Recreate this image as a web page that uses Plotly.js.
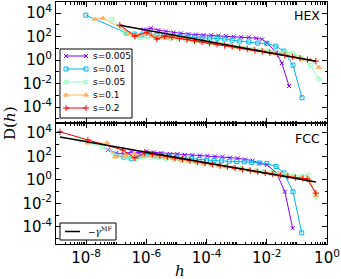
<!DOCTYPE html>
<html><head><meta charset="utf-8">
<script src="https://cdn.plot.ly/plotly-3.0.1.min.js"></script>
<style>html,body{margin:0;padding:0;background:#fff;} #chart{width:341px;height:279px;}</style>
</head><body><div id="chart"></div>
<script>
// Values are stored as log10 exponents (log-log axes)
const seriesNames = ['s=0.005', 's=0.01', 's=0.05', 's=0.1', 's=0.2'];
const panelLabels = ['HEX', 'FCC'];
const xTickVals = [1e-8, 1e-6, 1e-4, 1e-2, 1];
const xTickText = ['10<sup>-8</sup>', '10<sup>-6</sup>', '10<sup>-4</sup>', '10<sup>-2</sup>', '10<sup>0</sup>'];
const yTickVals = [1e-4, 1e-2, 1, 1e2, 1e4];
const yTickText = ['10<sup>-4</sup>', '10<sup>-2</sup>', '10<sup>0</sup>', '10<sup>2</sup>', '10<sup>4</sup>'];
const fitLabel = '\u2212<i>\u03b3</i><sup>MF</sup>';

// HEX panel
const hexLogH_s0005 = [-6.10,-5.85,-5.60,-5.35,-5.10,-4.85,-4.60,-4.35,-4.10,-3.85,-3.60,-3.35,-3.10,-2.85,-2.60,-2.35,-2.15,-1.99,-1.70,-1.50,-1.26];
const hexLogD_s0005 = [2.60,2.72,2.55,2.45,2.35,2.28,2.22,2.18,2.13,2.12,2.10,2.05,2.00,1.97,1.95,1.87,1.78,1.45,0.70,-0.26,-2.20];
const hexLogH_s001 = [-8.01,-6.65,-6.40,-6.15,-5.90,-5.65,-5.40,-5.15,-4.90,-4.65,-4.40,-4.15,-3.90,-3.65,-3.40,-3.15,-2.90,-2.60,-2.30,-2.00,-1.70,-1.43,-1.13,-0.83];
const hexLogD_s001 = [3.83,2.30,2.22,2.15,2.25,2.12,2.10,2.05,2.00,1.97,1.95,1.90,1.88,1.86,1.80,1.70,1.62,1.55,1.45,1.43,1.19,0.77,-0.43,-3.20];
const hexLogH_s005 = [-7.14,-6.71,-6.45,-6.20,-5.95,-5.70,-5.45,-5.20,-4.95,-4.70,-4.45,-4.20,-3.95,-3.70,-3.45,-3.20,-2.95,-2.70,-2.45,-2.20,-1.95,-1.70,-1.40,-1.13,-0.83,-0.55,-0.27];
const hexLogD_s005 = [3.49,2.30,2.05,1.90,1.95,2.00,1.90,1.85,1.78,1.72,1.65,1.58,1.50,1.45,1.35,1.28,1.18,1.05,0.95,0.85,0.80,0.75,0.70,0.60,0.17,-0.43,-1.62];
const hexLogH_s01 = [-7.71,-7.44,-6.55,-6.30,-6.05,-5.80,-5.55,-5.30,-5.05,-4.80,-4.55,-4.30,-4.05,-3.80,-3.55,-3.30,-3.05,-2.80,-2.55,-2.30,-2.05,-1.80,-1.55,-1.30,-1.05,-0.83,-0.55,-0.27];
const hexLogD_s01 = [3.49,3.57,2.30,2.10,2.20,2.05,1.95,1.85,1.95,1.90,1.75,1.65,1.60,1.45,1.35,1.25,1.12,1.00,0.90,0.80,0.70,0.60,0.50,0.40,0.25,0.09,0.02,-0.60];
const hexLogH_s02 = [-6.88,-6.38,-5.98,-5.65,-5.40,-5.15,-4.90,-4.65,-4.40,-4.15,-3.90,-3.65,-3.40,-3.15,-2.90,-2.65,-2.40,-2.15,-1.90,-1.65,-1.40,-1.15,-0.90,-0.65,-0.37];
const hexLogD_s02 = [2.98,2.04,2.38,1.79,2.05,1.95,1.85,1.75,1.65,1.55,1.45,1.35,1.25,1.15,1.05,0.95,0.85,0.75,0.63,0.52,0.40,0.28,0.16,0.05,-0.08];
const hexLogH_fit = [-6.88,-0.37];
const hexLogD_fit = [2.98,-0.085];

// FCC panel
const fccLogH_s0005 = [-7.28,-7.00,-6.75,-6.50,-6.25,-6.00,-5.75,-5.50,-5.22,-4.97,-4.72,-4.47,-4.22,-3.97,-3.72,-3.47,-3.22,-2.97,-2.72,-2.47,-2.23,-1.99,-1.67,-1.40,-1.14];
const fccLogD_s0005 = [2.55,2.30,2.20,2.40,2.30,2.45,2.35,2.30,2.21,2.20,2.13,2.12,2.08,2.05,2.00,1.98,1.90,1.85,1.75,1.65,1.42,1.28,0.57,-1.00,-4.10];
const fccLogH_s001 = [-7.00,-6.75,-6.50,-6.25,-6.00,-5.75,-5.50,-5.25,-5.00,-4.75,-4.50,-4.25,-4.00,-3.75,-3.50,-3.25,-3.00,-2.75,-2.50,-2.25,-2.00,-1.69,-1.43,-1.13,-0.84];
const fccLogD_s001 = [2.10,1.95,1.80,2.05,2.15,2.05,2.10,2.05,1.95,1.88,1.82,1.75,1.68,1.65,1.62,1.60,1.57,1.54,1.50,1.45,1.40,1.15,0.60,-1.00,-4.50];
const fccLogH_s005 = [-8.20,-7.45,-7.11,-6.64,-6.35,-6.10,-5.85,-5.60,-5.35,-5.10,-4.85,-4.60,-4.35,-4.10,-3.85,-3.60,-3.35,-3.10,-2.85,-2.60,-2.35,-2.10,-1.85,-1.60,-1.35,-1.10,-0.85,-0.62,-0.37];
const fccLogD_s005 = [3.40,2.80,2.30,1.87,1.80,1.95,1.92,1.88,1.80,1.72,1.65,1.58,1.50,1.42,1.35,1.27,1.18,1.08,0.98,0.88,0.80,0.72,0.65,0.55,0.48,0.38,0.30,0.40,-1.42];
const fccLogH_s01 = [-7.94,-7.30,-7.04,-6.70,-6.40,-6.10,-5.85,-5.60,-5.35,-5.10,-4.85,-4.60,-4.35,-4.10,-3.85,-3.60,-3.35,-3.10,-2.85,-2.60,-2.35,-2.10,-1.85,-1.60,-1.35,-1.10,-0.85,-0.60,-0.37];
const fccLogD_s01 = [3.15,3.15,1.96,2.10,2.25,2.00,2.10,2.00,1.90,1.82,1.70,1.62,1.50,1.42,1.30,1.22,1.12,1.02,0.92,0.82,0.72,0.62,0.52,0.42,0.34,0.25,0.16,0.08,-1.30];
const fccLogH_s02 = [-8.87,-7.94,-6.78,-6.38,-6.05,-5.80,-5.55,-5.30,-5.05,-4.80,-4.55,-4.30,-4.05,-3.80,-3.55,-3.30,-3.05,-2.80,-2.55,-2.30,-2.05,-1.80,-1.55,-1.30,-1.05,-0.80,-0.66,-0.37];
const fccLogD_s02 = [4.10,3.40,2.55,1.87,2.30,2.20,2.08,1.98,1.88,1.76,1.66,1.55,1.44,1.33,1.22,1.12,1.01,0.90,0.80,0.70,0.60,0.50,0.40,0.30,0.20,0.12,0.09,-1.12];
const fccLogH_fit = [-8.87,-0.37];
const fccLogD_fit = [3.66,-0.18];

const colors = ['#8000ff', '#00b5eb', '#80ffb4', '#ffb462', '#ff0000'];
const symbols = ['x-thin', 'square-open', 'circle-open', 'triangle-up', 'cross-thin'];
const msizes = [4, 4, 4, 4.5, 4.5];

const exp10 = a => a.map(v => Math.pow(10, v));

const hexData = [[hexLogH_s0005, hexLogD_s0005],[hexLogH_s001, hexLogD_s001],[hexLogH_s005, hexLogD_s005],[hexLogH_s01, hexLogD_s01],[hexLogH_s02, hexLogD_s02]];
const fccData = [[fccLogH_s0005, fccLogD_s0005],[fccLogH_s001, fccLogD_s001],[fccLogH_s005, fccLogD_s005],[fccLogH_s01, fccLogD_s01],[fccLogH_s02, fccLogD_s02]];

function markerOf(i) {
  return {symbol: symbols[i], size: msizes[i], color: colors[i], line: {color: colors[i], width: 1}};
}

const traces = [];
function addPanel(data, xa, ya) {
  data.forEach((d, i) => {
    traces.push({
      x: exp10(d[0]), y: exp10(d[1]), xaxis: xa, yaxis: ya,
      type: 'scatter', mode: 'lines+markers', name: seriesNames[i], showlegend: false,
      line: {color: colors[i], width: 1}, marker: markerOf(i)
    });
  });
}
addPanel(hexData, 'x', 'y');
addPanel(fccData, 'x2', 'y2');
traces.push({x: exp10(hexLogH_fit), y: exp10(hexLogD_fit), xaxis: 'x', yaxis: 'y', type: 'scatter', mode: 'lines',
  line: {color: 'black', width: 1.5}, showlegend: false});
traces.push({x: exp10(fccLogH_fit), y: exp10(fccLogD_fit), xaxis: 'x2', yaxis: 'y2', type: 'scatter', mode: 'lines',
  line: {color: 'black', width: 1.5}, showlegend: false});

// ---- legend drawn on a pixel-unit overlay axis (x3/y3) ----
const legRowTop = 56, legRowStep = 13;
const annotations = [];
const shapes = [
  {type: 'rect', xref: 'x3', yref: 'y3', x0: 60, x1: 132, y0: 49, y1: 118, layer: 'below',
    line: {color: 'black', width: 1}, fillcolor: 'white'},
  {type: 'rect', xref: 'x3', yref: 'y3', x0: 60, x1: 116, y0: 223, y1: 240, layer: 'below',
    line: {color: 'black', width: 1}, fillcolor: 'white'}
];
seriesNames.forEach((nm, i) => {
  const ry = legRowTop + legRowStep * i;
  traces.push({x: [66, 86], y: [ry, ry], xaxis: 'x3', yaxis: 'y3', type: 'scatter', mode: 'lines+markers',
    line: {color: colors[i], width: 1}, marker: markerOf(i), showlegend: false, hoverinfo: 'skip'});
  annotations.push({text: nm, xref: 'x3', yref: 'y3', x: 91, y: ry, xanchor: 'left', yanchor: 'middle', showarrow: false,
    font: {family: 'DejaVu Sans', size: 9, color: 'black'}});
});
traces.push({x: [65, 80], y: [231.5, 231.5], xaxis: 'x3', yaxis: 'y3', type: 'scatter', mode: 'lines',
  line: {color: 'black', width: 1.5}, showlegend: false, hoverinfo: 'skip'});
annotations.push({text: fitLabel, xref: 'x3', yref: 'y3', x: 86, y: 231, xanchor: 'left', yanchor: 'middle', showarrow: false,
  font: {family: 'DejaVu Serif', size: 9, color: 'black'}});

const tickFont = {family: 'DejaVu Sans', size: 15, color: 'black'};
const axCommon = {
  type: 'log', showline: true, linecolor: 'black', linewidth: 1, mirror: 'allticks',
  ticks: 'inside', ticklen: 5, tickwidth: 1, tickcolor: 'black', showgrid: false, zeroline: false,
  tickfont: tickFont
};
const xCommon = Object.assign({}, axCommon, {range: [-9, 0], tickmode: 'array', tickvals: xTickVals, ticktext: xTickText,
  minor: {ticks: 'inside', ticklen: 2.5, tickcolor: 'black', dtick: 'D1', showgrid: false}});
const yCommon = Object.assign({}, axCommon, {tickmode: 'array', tickvals: yTickVals, ticktext: yTickText,
  minor: {ticks: 'inside', ticklen: 2.5, tickcolor: 'black', dtick: 1, showgrid: false}});

annotations.push(
  {text: panelLabels[0], xref: 'paper', yref: 'paper', x: 0.982, y: 0.946, xanchor: 'right', yanchor: 'middle', showarrow: false,
    font: {family: 'DejaVu Sans', size: 12.5, color: 'black'}},
  {text: panelLabels[1], xref: 'paper', yref: 'paper', x: 0.982, y: 0.438, xanchor: 'right', yanchor: 'middle', showarrow: false,
    font: {family: 'DejaVu Sans', size: 12.5, color: 'black'}},
  {text: 'D(<i>h</i>)', xref: 'paper', yref: 'paper', x: -0.170, y: 0.5, xanchor: 'center', yanchor: 'middle', textangle: -90, showarrow: false,
    font: {family: 'DejaVu Serif', size: 15, color: 'black'}},
  {text: '<i>h</i>', xref: 'paper', yref: 'paper', x: 0.458, y: -0.112, xanchor: 'center', yanchor: 'middle', showarrow: false,
    font: {family: 'DejaVu Serif', size: 15, color: 'black'}}
);

const layout = {
  width: 341, height: 279,
  margin: {l: 56, r: 14, t: 2, b: 35},
  paper_bgcolor: 'white', plot_bgcolor: 'rgba(0,0,0,0)',
  showlegend: false,
  xaxis: Object.assign({}, xCommon, {anchor: 'y', domain: [0, 1], showticklabels: false}),
  xaxis2: Object.assign({}, xCommon, {anchor: 'y2', domain: [0, 1], showticklabels: true}),
  yaxis: Object.assign({}, yCommon, {anchor: 'x', domain: [0.5, 1], range: [-5.35, 4.95]}),
  yaxis2: Object.assign({}, yCommon, {anchor: 'x2', domain: [0, 0.5], range: [-5.45, 4.85]}),
  xaxis3: {visible: false, anchor: 'y3', domain: [0, 1], range: [56, 327], showgrid: false, zeroline: false},
  yaxis3: {visible: false, anchor: 'x3', domain: [0, 1], range: [244, 2], showgrid: false, zeroline: false},
  shapes: shapes,
  annotations: annotations
};

Plotly.newPlot('chart', traces, layout, {displayModeBar: false, staticPlot: true});
</script>
</body></html>
